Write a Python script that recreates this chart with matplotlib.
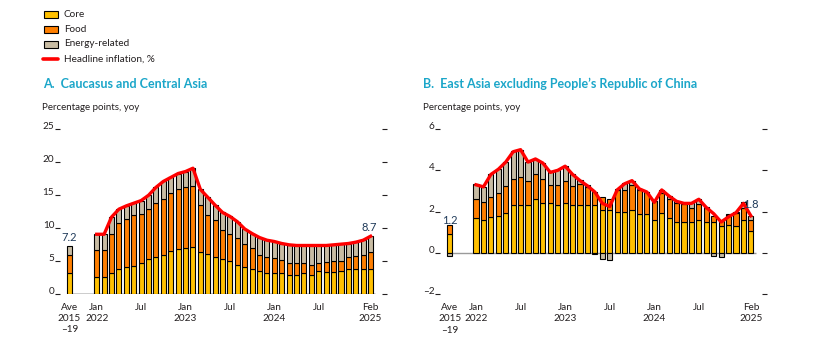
import matplotlib
matplotlib.use('Agg')
import matplotlib.pyplot as plt
from matplotlib.patches import Rectangle
from matplotlib.lines import Line2D
import numpy as np

plt.rcParams['font.family'] = ['Lato', 'DejaVu Sans']

# ---------------- data ----------------
month_tick_idx = [0, 6, 12, 18, 24, 30, 37]
month_tick_labels = ['Jan\n2022', 'Jul', 'Jan\n2023', 'Jul', 'Jan\n2024', 'Jul', 'Feb\n2025']
ave_label = 'Ave\n2015\n\u201319'

# Panel A: Caucasus and Central Asia (Jan 2022 - Feb 2025)
a_core = [2.5, 2.5, 3.2, 3.7, 4.0, 4.2, 4.7, 5.2, 5.5, 5.9, 6.4, 6.8, 6.9, 7.0,
          6.3, 6.0, 5.5, 5.2, 4.9, 4.4, 4.1, 3.8, 3.4, 3.2, 3.1, 3.1, 2.8, 2.9,
          3.1, 2.9, 3.4, 3.3, 3.3, 3.5, 3.7, 3.7, 3.8, 3.8]
a_food = [4.1, 4.1, 5.9, 7.0, 7.3, 7.7, 7.3, 7.6, 8.3, 8.5, 8.8, 9.0, 9.2, 9.3,
          7.1, 5.9, 5.6, 4.5, 4.2, 4.0, 3.5, 3.1, 2.5, 2.4, 2.3, 2.0, 1.9, 1.8,
          1.5, 1.5, 1.3, 1.5, 1.6, 1.4, 1.8, 2.0, 2.0, 2.5]
a_energy = [2.4, 2.4, 2.5, 2.1, 2.0, 1.8, 2.1, 2.1, 2.3, 2.6, 2.4, 2.4, 2.4, 2.7,
            2.4, 2.7, 2.3, 2.6, 2.6, 2.5, 2.2, 2.2, 2.6, 2.5, 2.5, 2.5, 2.7, 2.6,
            2.7, 2.9, 2.6, 2.5, 2.5, 2.6, 2.1, 2.1, 2.3, 2.4]
a_headline = [9.0, 9.0, 11.6, 12.8, 13.3, 13.7, 14.1, 14.9, 16.1, 17.0, 17.6, 18.2,
              18.5, 19.0, 15.8, 14.6, 13.4, 12.3, 11.7, 10.9, 9.8, 9.1, 8.5, 8.1,
              7.9, 7.6, 7.4, 7.3, 7.3, 7.3, 7.3, 7.3, 7.4, 7.5, 7.6, 7.8, 8.1, 8.7]
a_ave = {'core': 3.2, 'food': 2.7, 'energy': 1.3, 'headline': 7.2}

# Panel B: East Asia excluding PRC
b_core = [1.7, 1.6, 1.75, 1.8, 1.95, 2.3, 2.3, 2.3, 2.6, 2.4, 2.4, 2.3, 2.4, 2.3,
          2.3, 2.3, 2.3, 2.1, 2.1, 2.0, 2.0, 2.1, 1.9, 1.9, 1.6, 1.95, 1.7, 1.5,
          1.5, 1.5, 1.6, 1.5, 1.5, 1.3, 1.35, 1.3, 1.6, 1.05]
b_food = [0.9, 0.85, 0.95, 1.1, 1.3, 1.3, 1.4, 1.2, 1.2, 1.2, 0.9, 1.0, 1.1, 0.95,
          1.05, 0.9, 0.65, 0.6, 0.5, 1.05, 1.05, 1.2, 1.15, 1.05, 0.9, 0.95, 0.9,
          0.9, 0.85, 0.7, 0.75, 0.7, 0.3, 0.25, 0.5, 0.65, 0.6, 0.55]
b_energy = [0.75, 0.75, 1.1, 1.15, 1.15, 1.35, 1.3, 0.9, 0.75, 0.75, 0.65, 0.7, 0.7,
            0.55, 0.2, 0.1, -0.05, -0.3, -0.33, 0.03, 0.35, 0.2, 0.05, 0.02, 0.02,
            0.15, 0.15, 0.1, 0.05, 0.2, 0.25, 0.02, -0.13, -0.2, 0.02, 0.02, 0.25, 0.2]
b_headline = [3.3, 3.2, 3.8, 4.05, 4.4, 4.9, 5.0, 4.4, 4.55, 4.35, 3.9, 4.0, 4.2, 3.8,
              3.5, 3.25, 2.95, 2.4, 2.25, 3.05, 3.35, 3.5, 3.1, 2.95, 2.45, 3.05,
              2.75, 2.5, 2.4, 2.4, 2.6, 2.2, 1.9, 1.5, 1.75, 1.95, 2.4, 1.8]
b_ave = {'core': 0.9, 'food': 0.45, 'energy': -0.15, 'headline': 1.2}

a_yticks = [0, 5, 10, 15, 20, 25]
a_yticklabels = ['0', '5', '10', '15', '20', '25']
b_yticks = [-2, 0, 2, 4, 6]
b_yticklabels = ['\u20132', '0', '2', '4', '6']

# ---------------- style ----------------
W, H = 825, 346
C_CORE = '#FFC000'
C_FOOD = '#FF7F00'
C_ENERGY = '#C8BCA3'
C_LINE = '#FF0000'
C_TEXT = '#231F20'
C_TITLE = '#1BA6C9'
C_VAL = '#1F3A5A'
BAR_W = 0.68

fig = plt.figure(figsize=(W / 100, H / 100), dpi=100)


def px_axes(x0, x1, ytop, ybot):
    return fig.add_axes([x0 / W, 1 - ybot / H, (x1 - x0) / W, (ybot - ytop) / H])


def draw_panel(ax, core, food, energy, headline, ave, ave_pos, ylim, yticks, yticklabels,
               zero_color, first_label, last_label, last_dx, last_dy, first_dy):
    core = np.array(core)
    food = np.array(food)
    energy = np.array(energy)
    x = np.arange(len(core))
    allx = np.concatenate([[ave_pos], x])
    allcore = np.concatenate([[ave['core']], core])
    allfood = np.concatenate([[ave['food']], food])
    allen = np.concatenate([[ave['energy']], energy])
    # zero line
    ax.plot([ave_pos - BAR_W / 2, x[-1] + BAR_W / 2 + 0.3], [0, 0], color=zero_color,
            lw=1.0, zorder=1, solid_capstyle='butt')
    ax.bar(allx, allcore, BAR_W, color=C_CORE, edgecolor='black', linewidth=0.8, zorder=2)
    ax.bar(allx, allfood, BAR_W, bottom=allcore, color=C_FOOD, edgecolor='black',
           linewidth=0.8, zorder=2)
    en_bottom = np.where(allen >= 0, allcore + allfood, 0)
    ax.bar(allx, allen, BAR_W, bottom=en_bottom, color=C_ENERGY, edgecolor='black',
           linewidth=0.8, zorder=2)
    ax.plot(x, headline, color=C_LINE, lw=2.4, zorder=4, solid_joinstyle='round')
    ax.set_ylim(*ylim)
    ax.set_yticks(yticks)
    ax.set_yticklabels(yticklabels)
    for s in ax.spines.values():
        s.set_visible(False)
    ax.tick_params(axis='y', left=True, right=True, labelright=False, direction='out',
                   length=3.6, width=0.8, color=C_TEXT, labelsize=7.2, labelcolor=C_TEXT, pad=0.5)
    for lab in ax.get_yticklabels():
        lab.set_va('baseline')
    ax.set_xticks([ave_pos] + [x[i] for i in month_tick_idx])
    ax.set_xticklabels([ave_label] + month_tick_labels, fontsize=7.2, color=C_TEXT,
                       linespacing=1.3, va='top')
    ax.tick_params(axis='x', length=0, pad=6.5)
    ax.text(ave_pos, ave['headline'] + first_dy, first_label, ha='center', va='bottom',
            fontsize=8, color=C_VAL, zorder=5)
    ax.text(x[-1] + last_dx, headline[-1] + last_dy, last_label, ha='center', va='bottom',
            fontsize=8, color=C_VAL, zorder=5)


axA = px_axes(60, 381.7, 128.6, 293.7)
axA.set_xlim(-4.96, 38.5)
draw_panel(axA, a_core, a_food, a_energy, a_headline, a_ave, -3.7, (0, 25), a_yticks,
           a_yticklabels, 'black', '7.2', '8.7', -0.2, 0.5, 0.5)

axB = px_axes(440, 762, 129, 294.3)
axB.set_xlim(-4.85, 38.5)
draw_panel(axB, b_core, b_food, b_energy, b_headline, b_ave, -3.55, (-2, 6), b_yticks,
           b_yticklabels, '#9A9A9A', '1.2', '1.8', 0.0, 0.3, 0.1)

# titles and axis notes
fig.text(43 / W, 1 - 84 / H, 'A.  Caucasus and Central Asia', color=C_TITLE,
         fontsize=9, fontweight='bold', va='center', ha='left')
fig.text(423 / W, 1 - 84 / H, 'B.  East Asia excluding People\u2019s Republic of China',
         color=C_TITLE, fontsize=9, fontweight='bold', va='center', ha='left')
fig.text(42 / W, 1 - 107 / H, 'Percentage points, yoy', color=C_TEXT, fontsize=7,
         va='center', ha='left')
fig.text(423 / W, 1 - 107 / H, 'Percentage points, yoy', color=C_TEXT, fontsize=7,
         va='center', ha='left')

# legend (manual)
legend_items = [('Core', C_CORE), ('Food', C_FOOD), ('Energy-related', C_ENERGY)]
ys = [14.5, 29, 44]
for (name, col), yc in zip(legend_items, ys):
    fig.add_artist(Rectangle((43.5 / W, 1 - (yc + 3.5) / H), 14 / W, 7 / H,
                             transform=fig.transFigure, facecolor=col,
                             edgecolor='black', linewidth=0.8))
    fig.text(64 / W, 1 - yc / H, name, color=C_TEXT, fontsize=7.2, va='center', ha='left')
fig.add_artist(Line2D([43 / W, 58 / W], [1 - 59 / H, 1 - 59 / H], transform=fig.transFigure,
                      color=C_LINE, lw=2.6, solid_capstyle='round'))
fig.text(64 / W, 1 - 59 / H, 'Headline inflation, %', color=C_TEXT, fontsize=7.2,
         va='center', ha='left')

fig.savefig('out.png', dpi=100)
